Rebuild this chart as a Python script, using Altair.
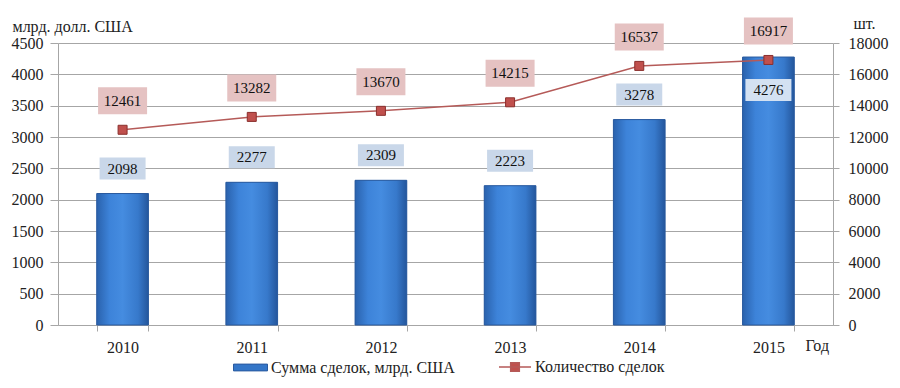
import altair as alt
import pandas as pd

years = ["2010", "2011", "2012", "2013", "2014", "2015"]
amounts = [2098, 2277, 2309, 2223, 3278, 4276]
counts = [12461, 13282, 13670, 14215, 16537, 16917]
left_ticks = [0, 500, 1000, 1500, 2000, 2500, 3000, 3500, 4000, 4500]
right_ticks = [0, 2000, 4000, 6000, 8000, 10000, 12000, 14000, 16000, 18000]
bar_series = "Сумма сделок, млрд. США"
line_series = "Количество сделок"

df = pd.DataFrame({"year": years, "amount": amounts, "count": counts,
                   "s1": bar_series, "s2": line_series})

FONT = "Liberation Serif, Times New Roman, serif"
GRID = "#a6a6a6"
TXT = "#222222"

x = alt.X("year:N", scale=alt.Scale(paddingInner=0.6, paddingOuter=0.3),
          axis=alt.Axis(title="Год", titleX=747, titleY=20, titleAlign="left",
                        titleBaseline="middle", titleFontWeight="normal",
                        titleFontSize=16, titleFont=FONT, titleColor=TXT,
                        labelAngle=0, labelFont=FONT, labelFontSize=16, labelColor=TXT,
                        labelPadding=8, tickBand="extent", tickSize=6,
                        tickColor=GRID, domainColor=GRID, grid=False))

yL = alt.Y("amount:Q", scale=alt.Scale(domain=[0, 4500], nice=False),
           axis=alt.Axis(orient="left", values=left_ticks, format="d", title="млрд. долл. США",
                         titleAngle=0, titleAlign="left", titleBaseline="middle",
                         titleX=-46, titleY=-17, titleFont=FONT, titleFontSize=16,
                         titleFontWeight="normal", titleColor=TXT,
                         labelFont=FONT, labelFontSize=16, labelColor=TXT, labelPadding=7,
                         tickSize=8, tickColor=GRID, domainColor=GRID,
                         grid=True, gridColor=GRID))

yR = alt.Y("count:Q", scale=alt.Scale(domain=[0, 18000], nice=False),
           axis=alt.Axis(orient="right", values=right_ticks, format="d", title="шт.",
                         titleAngle=0, titleAlign="left", titleBaseline="middle",
                         titleX=20, titleY=-20, titleFont=FONT, titleFontSize=16,
                         titleFontWeight="normal", titleColor=TXT,
                         labelFont=FONT, labelFontSize=16, labelColor=TXT, labelPadding=9,
                         tickSize=6, tickColor=GRID, domainColor=GRID, grid=False))

base = alt.Chart(df)

bar_box = "M-1,-0.478L1,-0.478L1,0.478L-1,0.478Z"
line_box = "M-1,-0.551L1,-0.551L1,0.551L-1,0.551Z"

bars_solid = base.mark_bar().encode(
    x=x, y=yL,
    color=alt.Color("s1:N", scale=alt.Scale(range=["#3476c8"]),
                    legend=alt.Legend(title=None, orient="none", legendX=175, legendY=307,
                                      symbolType="M-1,-0.2L1,-0.2L1,0.2L-1,0.2Z",
                                      symbolSize=1156, labelFont=FONT, labelFontSize=16,
                                      labelColor=TXT, labelOffset=3, padding=0, labelLimit=400,
                                      symbolStrokeColor="#2a5a9e", symbolStrokeWidth=1)))

grad = alt.Gradient(gradient="linear", x1=0, x2=1, y1=0, y2=0,
                    stops=[alt.GradientStop(color="#2a62ad", offset=0),
                           alt.GradientStop(color="#3d83d9", offset=0.25),
                           alt.GradientStop(color="#458ce0", offset=0.5),
                           alt.GradientStop(color="#3779cb", offset=0.8),
                           alt.GradientStop(color="#24569c", offset=1)])
bars_grad = base.mark_bar(fill=grad, stroke="#2a5a9e", strokeWidth=1).encode(x=x, y=yL)

above = base.transform_filter(alt.datum.year != "2015")
inside = base.transform_filter(alt.datum.year == "2015")

bbox_above = above.mark_point(shape=bar_box, size=2116, filled=True, color="#c9d7e9",
                              opacity=1, strokeWidth=0, yOffset=-25).encode(x=x, y=yL)
btext_above = above.mark_text(font=FONT, fontSize=15, color="#111111", baseline="middle",
                              yOffset=-25).encode(x=x, y=yL, text="amount:Q")
bbox_inside = inside.mark_point(shape=bar_box, size=2116, filled=True, color="#d3e1f2",
                                opacity=1, strokeWidth=0, yOffset=33).encode(x=x, y=yL)
btext_inside = inside.mark_text(font=FONT, fontSize=15, color="#111111", baseline="middle",
                                yOffset=33).encode(x=x, y=yL, text="amount:Q")

line = base.mark_line(color="#b55a58", strokeWidth=1.5).encode(x=x, y=yR)
points = base.mark_point(shape="square", filled=True, size=81, stroke="#8a2f2d",
                         strokeWidth=1, opacity=1).encode(
    x=x, y=yR,
    color=alt.Color("s2:N", scale=alt.Scale(range=["#c0504d"]),
                    legend=alt.Legend(title=None, orient="none", legendX=440, legendY=307,
                                      symbolType="M-1,0L1,0M-0.27,-0.27L0.27,-0.27L0.27,0.27L-0.27,0.27Z",
                                      symbolSize=1024, labelFont=FONT, labelFontSize=16,
                                      labelColor=TXT, labelOffset=3, padding=0, labelLimit=400,
                                      symbolStrokeColor="#b55a58", symbolStrokeWidth=1.5)))
lbox = base.mark_point(shape=line_box, size=2401, filled=True, color="#e5c2c2",
                       opacity=1, strokeWidth=0, yOffset=-29).encode(x=x, y=yR)
ltext = base.mark_text(font=FONT, fontSize=15, color="#111111", baseline="middle",
                       yOffset=-29).encode(x=x, y=yR, text="count:Q")

left_layer = alt.layer(bars_solid, bars_grad, bbox_above, btext_above, bbox_inside, btext_inside)
right_layer = alt.layer(line, points, lbox, ltext)

chart = alt.layer(left_layer, right_layer).resolve_scale(
    y="independent", color="independent"
).properties(
    width=775, height=282,
    autosize=alt.AutoSizeParams(type="none"),
    padding={"left": 50, "top": 35, "right": 58, "bottom": 55},
).configure_view(strokeWidth=0)

chart.save("out.html", embed_options={"renderer": "svg", "actions": False})
